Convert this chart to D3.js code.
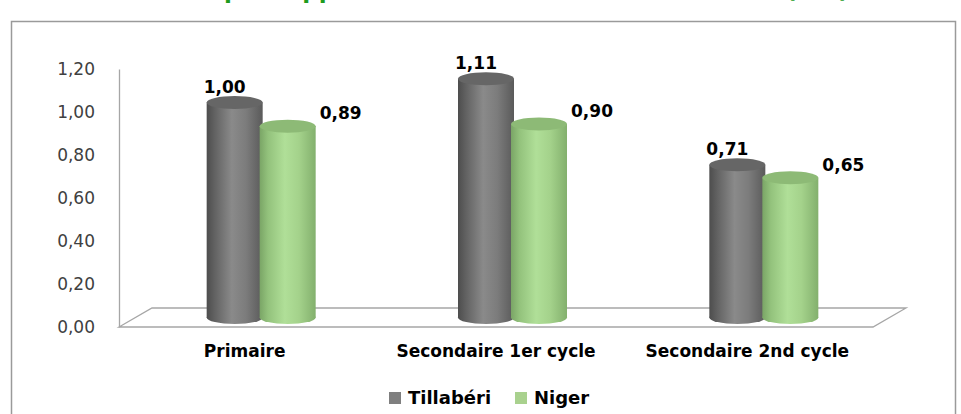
<!DOCTYPE html>
<html><head><meta charset="utf-8">
<script src="https://cdn.jsdelivr.net/npm/d3@7/dist/d3.min.js"></script>
<style>html,body{margin:0;padding:0;background:#fff;}svg{display:block;}</style>
</head><body>
<svg id="chart" width="961" height="414"></svg>
<script>
const categories = ["Primaire", "Secondaire 1er cycle", "Secondaire 2nd cycle"];
const seriesNames = ["Tillabéri", "Niger"];
const tillaberi = [1.00, 1.11, 0.71];
const niger = [0.89, 0.90, 0.65];
const yTicks = [0, 0.2, 0.4, 0.6, 0.8, 1.0, 1.2];
const titlePrefix = "Indice de Parité Tillabéri ";
const titleMain = "par rapport au niveau national ";
const titleEnd = "(IPS)";

const svg = d3.select("#chart");
const fr = d3.formatLocale({decimal: ",", thousands: " ", grouping: [3], currency: ["", ""]});
const fmt = fr.format(".2f");

// geometry
const frontY = 327, depthDx = 33, depthDy = -19;
const x0 = 119, x1 = 873;
const midY = frontY + depthDy / 2;
const xBand = d3.scaleBand().domain(categories).range([x0 + depthDx / 2, x1 + depthDx / 2]);
const xSub = d3.scaleBand().domain(seriesNames).range([-53, 53]);
const yBar = d3.scaleLinear().domain([0, 1.2]).range([midY, midY - 258]);
const yAxisScale = d3.scaleLinear().domain([0, 1.2]).range([frontY, frontY - 258]);
const barRx = 28, barRy = 6.5;

// defs / gradients
const defs = svg.append("defs");
function cyl(id, stops) {
  const g = defs.append("linearGradient").attr("id", id).attr("x1", 0).attr("x2", 1).attr("y1", 0).attr("y2", 0);
  stops.forEach(s => g.append("stop").attr("offset", s[0]).attr("stop-color", s[1]));
}
cyl("gGray", [[0, "#4d4d4d"], [0.15, "#636363"], [0.45, "#8a8a8a"], [0.7, "#7c7c7c"], [1, "#5a5a5a"]]);
cyl("gGreen", [[0, "#7aa566"], [0.15, "#93c27c"], [0.45, "#b0df98"], [0.7, "#a4d28b"], [1, "#83b06d"]]);
const topFill = {"Tillabéri": "#666666", "Niger": "#8dba76"};
const bodyFill = {"Tillabéri": "url(#gGray)", "Niger": "url(#gGreen)"};

// title (cut off at top, as in the reference)
const title = svg.append("text").attr("y", -2).attr("fill", "#1e9b1e")
  .attr("font-family", "DejaVu Sans").attr("font-weight", "bold").attr("font-size", 23);
const tp = title.append("tspan").text(titlePrefix);
title.append("tspan").text(titleMain);
title.append("tspan").attr("x", 786).text(titleEnd);
const preW = tp.node().getComputedTextLength();
tp.attr("x", 224 - preW);

// outer border
svg.append("rect").attr("x", 11.5).attr("y", 21.5).attr("width", 944).attr("height", 450)
  .attr("fill", "none").attr("stroke", "#9a9a9a").attr("stroke-width", 1.5);

// floor
const floorPts = [[x0, frontY], [x1, frontY], [x1 + depthDx, frontY + depthDy], [x0 + depthDx, frontY + depthDy]];
svg.append("path").attr("d", d3.line()(floorPts) + "Z").attr("fill", "#fff").attr("stroke", "#a6a6a6").attr("stroke-width", 1.3);

// y axis
const yAxis = d3.axisLeft(yAxisScale).tickValues(yTicks).tickFormat(fmt).tickSize(0).tickPadding(24);
const ga = svg.append("g").attr("transform", `translate(${x0},0)`).call(yAxis);
ga.select(".domain").attr("stroke", "#a6a6a6").attr("stroke-width", 1.3);
ga.selectAll("text").attr("font-family", "DejaVu Sans").attr("font-size", 17).attr("fill", "#404040");

// bars
const rows = categories.map((c, i) => ({cat: c, vals: [
  {s: "Tillabéri", v: tillaberi[i]}, {s: "Niger", v: niger[i]}]}));
rows.forEach(r => {
  r.vals.forEach(d => {
    const cx = xBand(r.cat) + xBand.bandwidth() / 2 + xSub(d.s) + xSub.bandwidth() / 2;
    const yb = yBar(0), yt = yBar(d.v);
    const g = svg.append("g");
    g.append("ellipse").attr("cx", cx).attr("cy", yb).attr("rx", barRx).attr("ry", barRy).attr("fill", bodyFill[d.s]);
    g.append("rect").attr("x", cx - barRx).attr("y", yt).attr("width", barRx * 2).attr("height", yb - yt).attr("fill", bodyFill[d.s]);
    g.append("ellipse").attr("cx", cx).attr("cy", yt).attr("rx", barRx).attr("ry", barRy).attr("fill", topFill[d.s]);
    const isG = d.s === "Tillabéri";
    svg.append("text").attr("x", cx + (isG ? -10 : 53)).attr("y", yt + (isG ? -10 : -7))
      .attr("text-anchor", "middle").attr("font-family", "DejaVu Sans").attr("font-weight", "bold")
      .attr("font-size", 17).attr("fill", "#000").text(fmt(d.v));
  });
});

// x labels
svg.append("g").selectAll("text").data(categories).join("text")
  .attr("x", c => xBand(c) + xBand.bandwidth() / 2 - depthDx / 2)
  .attr("y", 357).attr("text-anchor", "middle")
  .attr("font-family", "DejaVu Sans").attr("font-weight", "bold").attr("font-size", 17).attr("fill", "#000")
  .text(c => c);

// legend
const legX = [389, 515];
const lg = svg.append("g").selectAll("g").data(seriesNames).join("g")
  .attr("transform", (d, i) => `translate(${legX[i]},392)`);
lg.append("rect").attr("width", 12).attr("height", 12).attr("fill", (d, i) => i === 0 ? "#7f7f7f" : "#a9d18e");
lg.append("text").attr("x", 19).attr("y", 12).attr("font-family", "DejaVu Sans").attr("font-weight", "bold")
  .attr("font-size", 18).attr("fill", "#000").text(d => d);
</script>
</body></html>
